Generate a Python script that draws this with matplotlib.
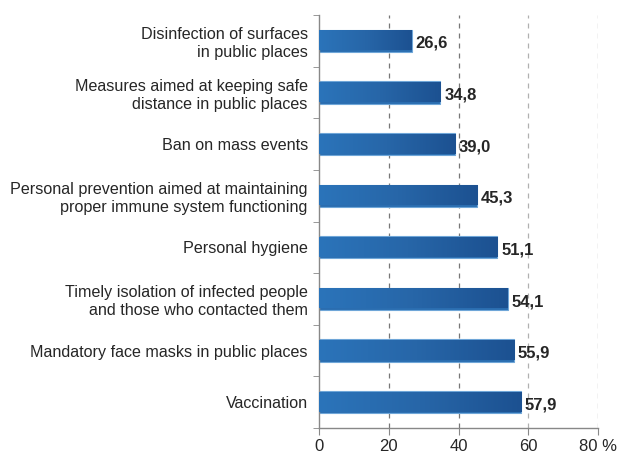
import matplotlib.pyplot as plt
import numpy as np

categories = [
    "Disinfection of surfaces\nin public places",
    "Measures aimed at keeping safe\ndistance in public places",
    "Ban on mass events",
    "Personal prevention aimed at maintaining\nproper immune system functioning",
    "Personal hygiene",
    "Timely isolation of infected people\nand those who contacted them",
    "Mandatory face masks in public places",
    "Vaccination",
]
values = [26.6, 34.8, 39.0, 45.3, 51.1, 54.1, 55.9, 57.9]
xticks = [0, 20, 40, 60, 80]
xticklabels = ["0", "20", "40", "60", "80 %"]

plt.rcParams["font.family"] = ["Liberation Sans", "DejaVu Sans"]

fig = plt.figure(figsize=(6.18, 4.57), dpi=100)
ax = fig.add_axes([0.516, 0.0635, 0.452, 0.9035])

n = len(categories)
ypos = np.arange(n)
bar_h = 0.43
bars = ax.barh(ypos, values, height=bar_h, color="#2a6db0",
               edgecolor="#6fa6d8", linewidth=0.8, zorder=2)

# horizontal gradient, a bit darker toward the end of each bar
grad = np.linspace(0, 1, 256).reshape(1, -1)
cmap = plt.matplotlib.colors.LinearSegmentedColormap.from_list(
    "bar", ["#2b74ba", "#2766a8", "#1c5191"]
)
for rect in bars:
    x0, y0 = rect.get_x(), rect.get_y()
    w, h = rect.get_width(), rect.get_height()
    im = ax.imshow(grad, extent=[x0, x0 + w, y0 + 0.03, y0 + h - 0.03],
                   aspect="auto", cmap=cmap, zorder=3)
    im.set_clip_path(rect)

for y, v in zip(ypos, values):
    ax.text(v + 1.1, y + 0.05, f"{v:.1f}".replace(".", ","), va="center",
            ha="left", fontsize=12, fontweight="bold", color="#262626", zorder=4)

ax.set_xlim(0, 80)
ax.set_ylim(n - 0.5, -0.5)
ax.set_xticks(xticks)
ax.set_xticklabels(xticklabels, fontsize=12, color="#262626")
ax.set_yticks(ypos)
ax.set_yticklabels(categories, fontsize=11.6, color="#262626", linespacing=1.25,
                   ha="right")
ax.tick_params(axis="y", length=0, pad=8)
ax.set_yticks(np.arange(-0.5, n, 1), minor=True)
ax.tick_params(axis="y", which="minor", length=4, color="#888888")
ax.tick_params(axis="x", length=5, color="#888888", pad=3)

for gx, c in zip(xticks[1:], ["#777777", "#777777", "#b0b0b0", "#999999"]):
    ax.axvline(gx, color=c, linestyle=(0, (4, 4)), linewidth=0.9, zorder=1)

for s in ["top", "right"]:
    ax.spines[s].set_visible(False)
for s in ["left", "bottom"]:
    ax.spines[s].set_color("#888888")
    ax.spines[s].set_linewidth(1.0)

fig.savefig("out.png", dpi=100)
